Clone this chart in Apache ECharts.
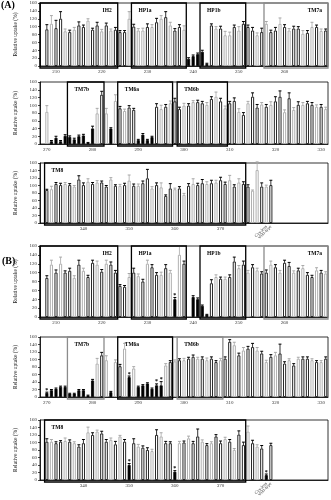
<!DOCTYPE html>
<html><head><meta charset="utf-8">
<script src="https://cdn.jsdelivr.net/npm/echarts@6/dist/echarts.min.js"></script>
<style>html,body{margin:0;padding:0;background:#fff}#c{width:331px;height:500px}</style>
</head><body><div id="c"></div>
<script>
// ---------- DATA ----------
const yTickValues = [0,20,40,60,80,100,120,140,160];
const uptakeAxisTitle = 'Relative uptake (%)';
const controlNames = ['Cys-less', 'wild-type'];

// Panel A1 : residues 207-269
const a1Start = 207;
const a1Values = [null,
  93,107,96,120,88,86,92,103,99,115,92,103,88,103,90,92,
  86,86,120,
  100,90,90,99,99,111,120,124,103,90,99,92,
  18,25,30,36,5,
  103,95,95,78,78,99,90,107,
  99,90,78,86,107,86,90,107,99,90,95,95,82,84,99,99,89,90];
const a1Errors = [null,
  12,21,20,18,6,5,6,9,5,5,4,8,5,6,4,6,
  4,4,18,
  6,5,6,8,6,10,8,14,8,5,6,10,
  3,3,3,4,2,
  4,5,6,10,8,5,10,6,
  5,8,6,10,6,5,8,15,6,5,6,5,8,6,12,5,5,4];
const a1Kinds = "-" + "kgkkgkgkkgkkgkgk" + "kkg" + "kggkgkgkgkkg" + "fffff" + "kgkggkgk" + "kkgkgkkgkgkkgkgkgk";
const a1Stars = [];
const a1Domains = [['IH2',207,223],['HP1a',227,238],['HP1b',242,251],['TM7a',256,269]];

// Panel A2 : residues 269-331
const a2Start = 269;
const a2Values = [null,
  83,
  7,16,7,21,18,12,20,22,3,40,
  79,127,79,40,111,
  92,85,94,88,
  10,24,10,18,
  96,90,96,105,110,
  90,99,99,108,108,105,101,116,122,110,92,105,111,83,75,105,122,94,102,96,101,110,122,82,118,88,101,101,105,101,96,96,90];
const a2Errors = [null,
  16,
  2,4,2,3,3,3,3,3,1,6,
  13,9,13,2,16,
  5,5,5,4,
  2,3,2,2,
  8,10,6,6,8,
  5,6,5,4,5,5,6,6,12,8,6,5,8,8,6,5,10,8,5,6,8,12,15,6,14,6,8,6,5,6,5,6,5];
const a2Kinds = "-" + "g" + "ffffffffff" + "gkgfg" + "kgkk" + "ffff" + "kgkgk" + "kgkgkkgkgk" + "gkkgkgkkgk" + "gkkgkgkgkk" + "gkg";
const a2Stars = [];
const a2Domains = [['TM7b',275,282],['TM6a',286,297],['TM6b',299,309]];

// Panel A3 : residues 331-379 + two controls
const a3Start = 331;
const a3Values = [null,
  88,90,104,101,104,101,97,116,101,110,104,108,108,97,116,99,99,101,113,99,
  99,106,119,92,101,95,72,92,90,92,75,99,104,101,106,104,106,108,114,104,
  114,97,108,104,97,86,141,97,97,101,
  null,null,null,null,null,null,null,null,null,null,null,null];
const a3Errors = [null,
  2,8,4,5,4,4,3,10,6,8,4,5,4,3,5,3,4,5,15,5,
  5,6,24,5,6,12,3,13,3,5,4,6,14,5,10,6,8,6,8,5,
  13,5,10,6,5,2,22,10,4,13,
  null,null,null,null,null,null,null,null,null,null,null,null];
const a3Kinds = "-" + "kgkkgkgkkg" + "kgkkgkgkgk" + "gkkgkgkkgk" + "gkgkkgkgkk" + "gkgkkggkgk" + "------------";
const a3Stars = [];
const a3Domains = [['TM8',332,375]];
const a3ControlSlots = [49,50];

// Panel B1 : residues 207-269
const b1Start = 207;
const b1Values = [null,
  88,118,100,120,100,104,88,118,104,90,122,118,102,120,118,100,
  70,68,90,
  100,92,80,120,112,95,95,110,100,
  40,140,120,null,
  45,40,25,5,
  76,90,86,86,90,125,110,118,100,112,105,98,100,118,112,100,122,115,100,105,110,95,90,105,100,98];
const b1Errors = [null,
  5,10,6,15,4,6,5,10,6,4,6,8,5,8,6,5,
  3,3,8,
  10,5,5,8,6,5,6,8,5,
  4,20,6,null,
  3,3,2,1,
  8,5,4,4,5,10,6,8,5,6,5,4,6,8,6,5,6,8,4,5,6,5,4,6,5,4];
const b1Kinds = "-" + "kgkgkkgkgkkgkgkk" + "kkg" + "kgkgkkgkg" + "fgk-" + "ffff" + "kgkgkkgkgk" + "gkkgkgkkgk" + "gkkgkg";
const b1Stars = [29];
const b1Domains = [['IH2',207,223],['HP1a',227,238],['HP1b',242,251],['TM7a',256,269]];

// Panel B2 : residues 269-331
const b2Start = 269;
const b2Values = [null,
  11,18,22,27,27,9,9,18,18,4,44,
  89,111,98,13,93,
  82,129,53,76,
  27,31,36,22,31,31,
  84,93,95,
  98,98,102,107,102,102,98,102,93,98,102,147,138,111,124,129,133,124,116,93,107,111,116,89,98,84,102,102,102,98,93,93,102];
const b2Errors = [null,
  2,2,2,2,2,1,1,2,2,1,3,
  14,8,12,2,6,
  5,14,3,5,
  2,2,2,2,4,10,
  5,4,4,
  4,5,4,5,4,5,6,5,4,5,5,6,8,6,8,6,10,8,6,5,6,8,25,5,4,5,4,5,5,4,4,4,5];
const b2Kinds = "-" + "fffffffffff" + "gkgfg" + "kgfg" + "ffffff" + "gkg" + "kgkkgkgkkg" + "kkgkgkkgkg" + "kgkkgkgkkg" + "kgk";
const b2Stars = [1,19,25,26];
const b2Domains = [['TM7b',275,282],['TM6a',286,297],['TM6b',299,308]];

// Panel B3 : residues 331-379 + two controls
const b3Start = 331;
const b3Values = [null,
  102,102,98,102,104,102,98,89,98,127,120,129,124,102,107,95,116,102,40,
  98,89,86,80,77,120,116,98,98,22,
  98,100,111,98,116,102,93,98,116,98,109,102,80,121,93,
  129,98,89,84,13,93,
  null,null,null,null,null,null,null,null,null,null,null,null];
const b3Errors = [null,
  8,6,4,3,8,5,4,5,10,14,6,4,6,6,5,8,3,6,4,
  12,6,5,6,5,14,10,5,4,3,
  5,4,6,5,20,5,4,4,5,6,5,6,4,10,8,
  15,8,5,8,3,5,
  null,null,null,null,null,null,null,null,null,null,null,null];
const b3Kinds = "-" + "kgkkgkgkkgkgkkgkgk" + "f" + "kgkkgkgkk" + "f" + "gkgkkgkgkkgkgkk" + "gkgk" + "fk" + "------------";
const b3Stars = [19,29,49];
const b3Domains = [['TM8',332,375]];
const b3ControlSlots = [49,50];

// ---------- LAYOUT / STYLE ----------
const SERIF = 'Liberation Serif';
const grayDomains = {A1:['TM7a'], B1:['TM7a'], B2:['TM7b','TM6b']};
const rightLabelDomains = ['IH2','TM7a'];
const panels = [
  {id:'A1', top:3,   h:63, start:a1Start, values:a1Values, errors:a1Errors, kinds:a1Kinds, stars:a1Stars, domains:a1Domains, labelMax:62},
  {id:'A2', top:82,  h:62, start:a2Start, values:a2Values, errors:a2Errors, kinds:a2Kinds, stars:a2Stars, domains:a2Domains, labelMax:62},
  {id:'A3', top:163, h:60, start:a3Start, values:a3Values, errors:a3Errors, kinds:a3Kinds, stars:a3Stars, domains:a3Domains, labelMax:44, controls:a3ControlSlots},
  {id:'B1', top:246, h:71, start:b1Start, values:b1Values, errors:b1Errors, kinds:b1Kinds, stars:b1Stars, domains:b1Domains, labelMax:62},
  {id:'B2', top:337, h:60, start:b2Start, values:b2Values, errors:b2Errors, kinds:b2Kinds, stars:b2Stars, domains:b2Domains, labelMax:62},
  {id:'B3', top:420, h:60, start:b3Start, values:b3Values, errors:b3Errors, kinds:b3Kinds, stars:b3Stars, domains:b3Domains, labelMax:44, controls:b3ControlSlots}
];
const GL = 40, GW = 288;

function kindStyle(c){
  if (c === 'f') return {color:'#000', borderColor:'#000', borderWidth:0.8};
  if (c === 'g') return {color:'#fff', borderColor:'#a8a8a8', borderWidth:0.9};
  return {color:'#fff', borderColor:'#111', borderWidth:0.9};
}

const option = {
  animation:false,
  backgroundColor:'#fff',
  grid:[], xAxis:[], yAxis:[], series:[],
  graphic:[
    {type:'text', left:1, top:0, style:{text:'(A)', font:'bold 10px ' + SERIF, fill:'#000'}},
    {type:'text', left:2, top:256, style:{text:'(B)', font:'bold 10px ' + SERIF, fill:'#000'}}
  ]
};

panels.forEach((p, gi) => {
  const n = p.values.length;
  const cats = [];
  for (let i = 0; i < n; i++) {
    let c = String(p.start + i);
    if (p.controls && p.controls.indexOf(i) >= 0) c = controlNames[p.controls.indexOf(i)];
    cats.push(c);
  }
  const showRes = (i, v) => i <= p.labelMax && /^\d+$/.test(v) && (+v) % 10 === 0;
  option.grid.push({left:GL, top:p.top, width:GW, height:p.h, show:true, borderColor:'#000', borderWidth:0.8, backgroundColor:'transparent'});
  option.xAxis.push({
    type:'category', gridIndex:gi, data:cats,
    axisLine:{lineStyle:{color:'#000', width:0.8}},
    axisTick:{alignWithLabel:true, interval:showRes, length:2, lineStyle:{color:'#000', width:0.7}},
    axisLabel:{interval:showRes, fontSize:5, margin:3, color:'#333', fontFamily:SERIF}
  });
  option.yAxis.push({
    type:'value', gridIndex:gi, min:yTickValues[0], max:yTickValues[yTickValues.length-1], interval:20,
    axisLine:{show:true, lineStyle:{color:'#000', width:0.8}},
    axisTick:{show:true, length:2, lineStyle:{color:'#000', width:0.7}},
    splitLine:{show:false},
    axisLabel:{fontSize:5, margin:3, color:'#333', fontFamily:SERIF},
    name:uptakeAxisTitle, nameLocation:'middle', nameGap:15,
    nameTextStyle:{fontSize:5.5, color:'#222', fontFamily:SERIF}
  });
  option.series.push({
    type:'bar', xAxisIndex:gi, yAxisIndex:gi, barWidth:'66%', silent:true, z:2,
    data:p.values.map((v, i) => v == null ? null : {value:v, itemStyle:kindStyle(p.kinds[i])})
  });
  const errData = [];
  p.values.forEach((v, i) => { if (v != null && p.errors[i] != null) errData.push([i, v, p.errors[i], p.stars.indexOf(i) >= 0 ? 1 : 0]); });
  option.series.push({
    type:'custom', xAxisIndex:gi, yAxisIndex:gi, silent:true, z:3,
    encode:{x:0, y:1}, data:errData,
    renderItem:(params, api) => {
      const i = api.value(0), v = api.value(1), e = api.value(2), star = api.value(3);
      const b = api.coord([i, v]), t = api.coord([i, v + e]);
      const hw = api.size([1, 0])[0] * 0.32;
      const col = p.kinds[i] === 'g' ? '#a8a8a8' : '#000';
      const ch = [
        {type:'line', shape:{x1:b[0], y1:b[1], x2:t[0], y2:t[1]}, style:{stroke:col, lineWidth:0.8}},
        {type:'line', shape:{x1:t[0]-hw, y1:t[1], x2:t[0]+hw, y2:t[1]}, style:{stroke:col, lineWidth:1}}
      ];
      if (star) ch.push({type:'text', style:{text:'*', x:t[0], y:t[1] + 1, align:'center', verticalAlign:'bottom', font:'bold 6px ' + SERIF, fill:'#000'}});
      return {type:'group', children:ch};
    }
  });
  const grays = grayDomains[p.id] || [];
  option.series.push({
    type:'custom', xAxisIndex:gi, yAxisIndex:gi, silent:true, z:5,
    encode:{x:[0,1], y:2},
    data:p.domains.map((d, k) => [d[1] - p.start, d[2] - p.start, k]),
    renderItem:(params, api) => {
      const a = api.value(0), b = api.value(1), k = api.value(2);
      const bw = api.size([1, 0])[0];
      const pa = api.coord([a, 160]), pb = api.coord([b, 0]);
      const x1 = pa[0] - bw / 2, x2 = pb[0] + bw / 2, y1 = pa[1], y2 = pb[1] + 2;
      const name = p.domains[k][0];
      const col = grays.indexOf(name) >= 0 ? '#8c8c8c' : '#000';
      const right = rightLabelDomains.indexOf(name) >= 0;
      return {type:'group', children:[
        {type:'rect', shape:{x:x1, y:y1, width:x2 - x1, height:y2 - y1}, style:{fill:null, stroke:col, lineWidth:1.3}},
        {type:'text', style:{text:name, x: right ? x2 - 6 : x1 + 7, y:y1 + 5, align: right ? 'right' : 'left', verticalAlign:'top', font:'bold 5.5px ' + SERIF, fill:'#000'}}
      ]};
    }
  });
});

// rotated control labels under panels A3 and B3 (one axis per control so none is hidden)
panels.forEach((p, gi) => {
  if (!p.controls) return;
  const cats = option.xAxis[gi].data;
  p.controls.forEach((slot) => {
    option.xAxis.push({
      type:'category', gridIndex:gi, data:cats, position:'bottom',
      axisLine:{show:false}, axisTick:{show:false}, splitLine:{show:false},
      axisLabel:{rotate:45, fontSize:4.5, margin:3, color:'#333', fontFamily:SERIF, hideOverlap:false,
        interval:(i) => i === slot}
    });
  });
});

const chart = echarts.init(document.getElementById('c'), null, {renderer:'canvas'});
chart.setOption(option);
</script>
</body></html>
